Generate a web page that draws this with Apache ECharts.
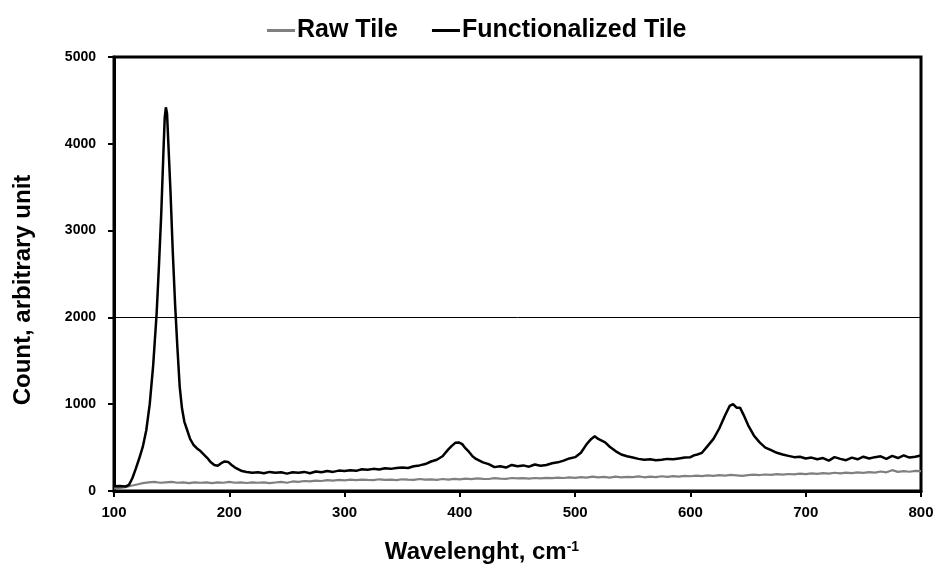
<!DOCTYPE html>
<html>
<head>
<meta charset="utf-8">
<script src="https://cdn.jsdelivr.net/npm/echarts@6/dist/echarts.min.js"></script>
<style>
  html, body { margin: 0; padding: 0; background: #fff; }
  #chart { width: 938px; height: 568px; }
</style>
</head>
<body>
<div id="chart"></div>
<script>
// ── Data ───────────────────────────────────────────────
const rawX = [100,105,110,115,120,125,130,135,140,145,150,155,160,165,170,175,180,185,190,195,
  200,205,210,215,220,225,230,235,240,245,250,255,260,265,270,275,280,285,290,295,
  300,305,310,315,320,325,330,335,340,345,350,355,360,365,370,375,380,385,390,395,
  400,405,410,415,420,425,430,435,440,445,450,455,460,465,470,475,480,485,490,495,
  500,505,510,515,520,525,530,535,540,545,550,555,560,565,570,575,580,585,590,595,
  600,605,610,615,620,625,630,635,640,645,650,655,660,665,670,675,680,685,690,695,
  700,705,710,715,720,725,730,735,740,745,750,755,760,765,770,775,780,785,790,795,800];
const rawY = [30,35,45,60,75,90,100,105,95,100,105,95,100,90,100,95,100,90,100,95,
  105,95,100,92,100,95,100,90,98,105,95,110,105,115,110,120,115,125,120,128,
  122,130,125,132,128,125,135,128,130,125,135,130,128,138,130,135,128,138,132,140,
  135,142,136,145,140,138,148,142,140,150,145,148,142,150,146,152,148,155,150,158,
  152,160,155,165,158,162,155,165,158,162,160,168,158,165,160,170,162,172,165,175,
  170,178,172,180,175,182,178,185,180,175,182,188,184,190,186,194,188,196,192,200,
  195,202,198,205,200,210,204,212,206,214,208,218,212,225,215,240,220,228,222,232,230];

const funcX = [100,105,110,113,116,119,122,125,128,131,134,137,139,141,143,144,145,146,147,149,
  151,153,155,157,159,161,163,166,169,172,175,178,181,184,187,190,193,196,199,202,
  205,208,211,215,220,225,230,235,240,245,250,255,260,265,270,275,280,285,290,295,
  300,305,310,315,320,325,330,335,340,345,350,355,360,365,370,375,380,385,390,393,
  396,399,402,405,408,411,414,417,420,425,430,435,440,445,450,455,460,465,470,475,
  480,485,490,495,500,505,510,514,517,520,523,526,530,535,540,545,550,555,560,565,
  570,575,580,585,590,595,600,603,606,610,615,620,625,630,634,637,640,643,646,650,
  655,660,665,670,675,680,685,690,695,700,705,710,715,720,725,730,735,740,745,750,
  755,760,765,770,775,780,785,790,795,800];
const funcY = [55,58,52,70,150,260,380,510,700,1000,1450,2050,2600,3200,3950,4300,4420,4350,4050,3450,
  2750,2150,1650,1200,950,800,720,600,530,490,460,420,380,330,300,290,320,340,335,300,
  270,250,230,220,210,215,205,220,210,215,200,215,210,220,205,225,215,230,220,235,
  230,240,232,250,245,255,248,262,255,265,270,265,285,295,310,340,360,400,480,520,
  555,560,540,490,450,400,370,350,330,310,275,285,270,300,285,295,280,305,290,300,
  320,330,350,375,390,440,540,600,630,600,580,560,510,460,420,400,385,370,360,365,
  355,360,370,365,375,385,390,410,420,440,520,600,720,870,980,1000,960,960,880,760,
  640,560,500,470,440,420,405,390,395,375,385,365,380,350,390,370,355,385,365,395,
  375,390,400,370,405,380,410,385,395,410];

const yTicks = [0, 1000, 2000, 3000, 4000, 5000];
const xTicks = [100, 200, 300, 400, 500, 600, 700, 800];
const gridValue = 2000;   // the single horizontal rule

const FONT = "'Liberation Sans', Arial, sans-serif";

const zip = (xs, ys) => xs.map((x, i) => [x, ys[i]]);

const chart = echarts.init(document.getElementById('chart'));

chart.setOption({
  backgroundColor: '#FFFFFF',
  animation: false,

  // ── Legend ─────────────────────────────────────────────
  legend: {
    top: 13,
    left: 262,
    itemGap: 34,
    itemWidth: 28,
    itemHeight: 3,
    icon: 'rect',
    textStyle: { fontFamily: FONT, fontSize: 25, fontWeight: 'bold', color: '#000', padding: [0, 0, 0, -3] },
    data: ['Raw Tile', 'Functionalized Tile'],
  },

  grid: { left: 114, right: 17, top: 57, bottom: 77, show: true, borderColor: '#000', borderWidth: 3 },

  xAxis: {
    type: 'value',
    min: xTicks[0],
    max: xTicks[xTicks.length - 1],
    interval: 100,
    axisLine:  { lineStyle: { color: '#000', width: 3 } },
    axisTick:  { show: true, length: 6, lineStyle: { color: '#000', width: 2 } },
    splitLine: { show: false },
    axisLabel: { fontFamily: FONT, fontSize: 15, fontWeight: 'bold', color: '#000', margin: 14 },
  },

  yAxis: {
    type: 'value',
    min: yTicks[0],
    max: yTicks[yTicks.length - 1],
    interval: 1000,
    axisLine:  { show: true, lineStyle: { color: '#000', width: 3 } },
    axisTick:  { show: true, length: 6, lineStyle: { color: '#000', width: 2 } },
    splitLine: { show: false },
    axisLabel: {
      fontFamily: FONT, fontSize: 14, fontWeight: 'bold', color: '#000', margin: 18,
      formatter: v => String(v),
    },
  },

  // ── Axis titles ────────────────────────────────────────
  graphic: [
    {
      type: 'text',
      x: 23, y: 290,
      rotation: Math.PI / 2,
      style: {
        text: 'Count, arbitrary unit',
        font: "bold 24px " + FONT,
        fill: '#000',
        align: 'center',
        verticalAlign: 'middle',
      },
    },
    {
      type: 'text',
      x: 482, y: 552,
      style: {
        text: '{b|Wavelenght, cm}{s|-1}',
        align: 'center',
        verticalAlign: 'middle',
        rich: {
          b: { font: "bold 24px " + FONT, fill: '#000' },
          s: { font: "bold 14px " + FONT, fill: '#000', verticalAlign: 'top', padding: [0, 0, 10, 0] },
        },
      },
    },
  ],

  series: [
    {
      name: 'Raw Tile',
      type: 'line',
      data: zip(rawX, rawY),
      showSymbol: false,
      color: '#808080',
      lineStyle: { color: '#808080', width: 2.2 },
      z: 2,
    },
    {
      name: 'Functionalized Tile',
      type: 'line',
      data: zip(funcX, funcY),
      showSymbol: false,
      color: '#000',
      lineStyle: { color: '#000', width: 2.5 },
      z: 3,
      markLine: {
        silent: true,
        symbol: 'none',
        label: { show: false },
        lineStyle: { color: '#000', width: 1, type: 'solid' },
        data: [{ yAxis: gridValue }],
      },
    },
  ],
});
</script>
</body>
</html>
